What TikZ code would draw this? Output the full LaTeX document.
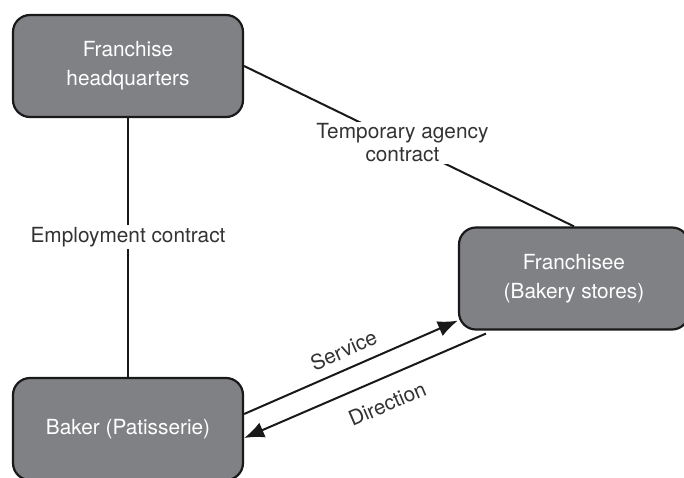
\documentclass[tikz,border=0pt]{standalone}
\usepackage{fontspec}
\setmainfont{TeX Gyre Heros}
\usetikzlibrary{arrows.meta}

\definecolor{boxgray}{RGB}{128,129,133}
\definecolor{inkgray}{RGB}{51,51,51}

\tikzstyle{party} = [draw=black!90, fill=boxgray, line width=1.1pt, rounded corners=8.5pt, minimum width=115pt, minimum height=51pt, text=white, align=center, font=\fontsize{10.4}{14.5}\selectfont]
\tikzstyle{line} = [draw=black!90, line width=1pt]
\tikzstyle{arrow} = [line, -{Latex[length=10pt,width=8pt]}]
\tikzstyle{tag} = [text=inkgray, align=center, font=\fontsize{10.4}{11.5}\selectfont]

\begin{document}
\begin{tikzpicture}[x=0.5pt,y=-0.5pt]

	\useasboundingbox (0,0) rectangle (684,477);
	\clip (0,0) rectangle (684,477);

	\node[party] (hq) at (128,66) {Franchise\\headquarters}; % top left
	\node[party] (fr) at (574,278.5) {Franchisee\\(Bakery stores)}; % right
	\node[party] (bk) at (128,429) {Baker (Patisserie)}; % bottom left

	\draw[line] (hq.south) -- (bk.north) node[tag, fill=white, inner sep=1pt, pos=0.46] {Employment contract};
	\draw[line] (hq.east) -- (fr.north) node[tag, fill=white, inner sep=1pt, pos=0.48] {Temporary agency\\contract};

	\draw[arrow] ([yshift=7.5pt]bk.east) -- ([yshift=5pt]fr.south west) node[tag, sloped, above=1.5pt, pos=0.5] {Service};
	\draw[line, {Latex[length=10pt,width=8pt]}-] ([yshift=-4.5pt]bk.east) -- ([xshift=14pt,yshift=-1.5pt]fr.south west) node[tag, sloped, below=5pt, pos=0.55] {Direction};

\end{tikzpicture}
\end{document}
